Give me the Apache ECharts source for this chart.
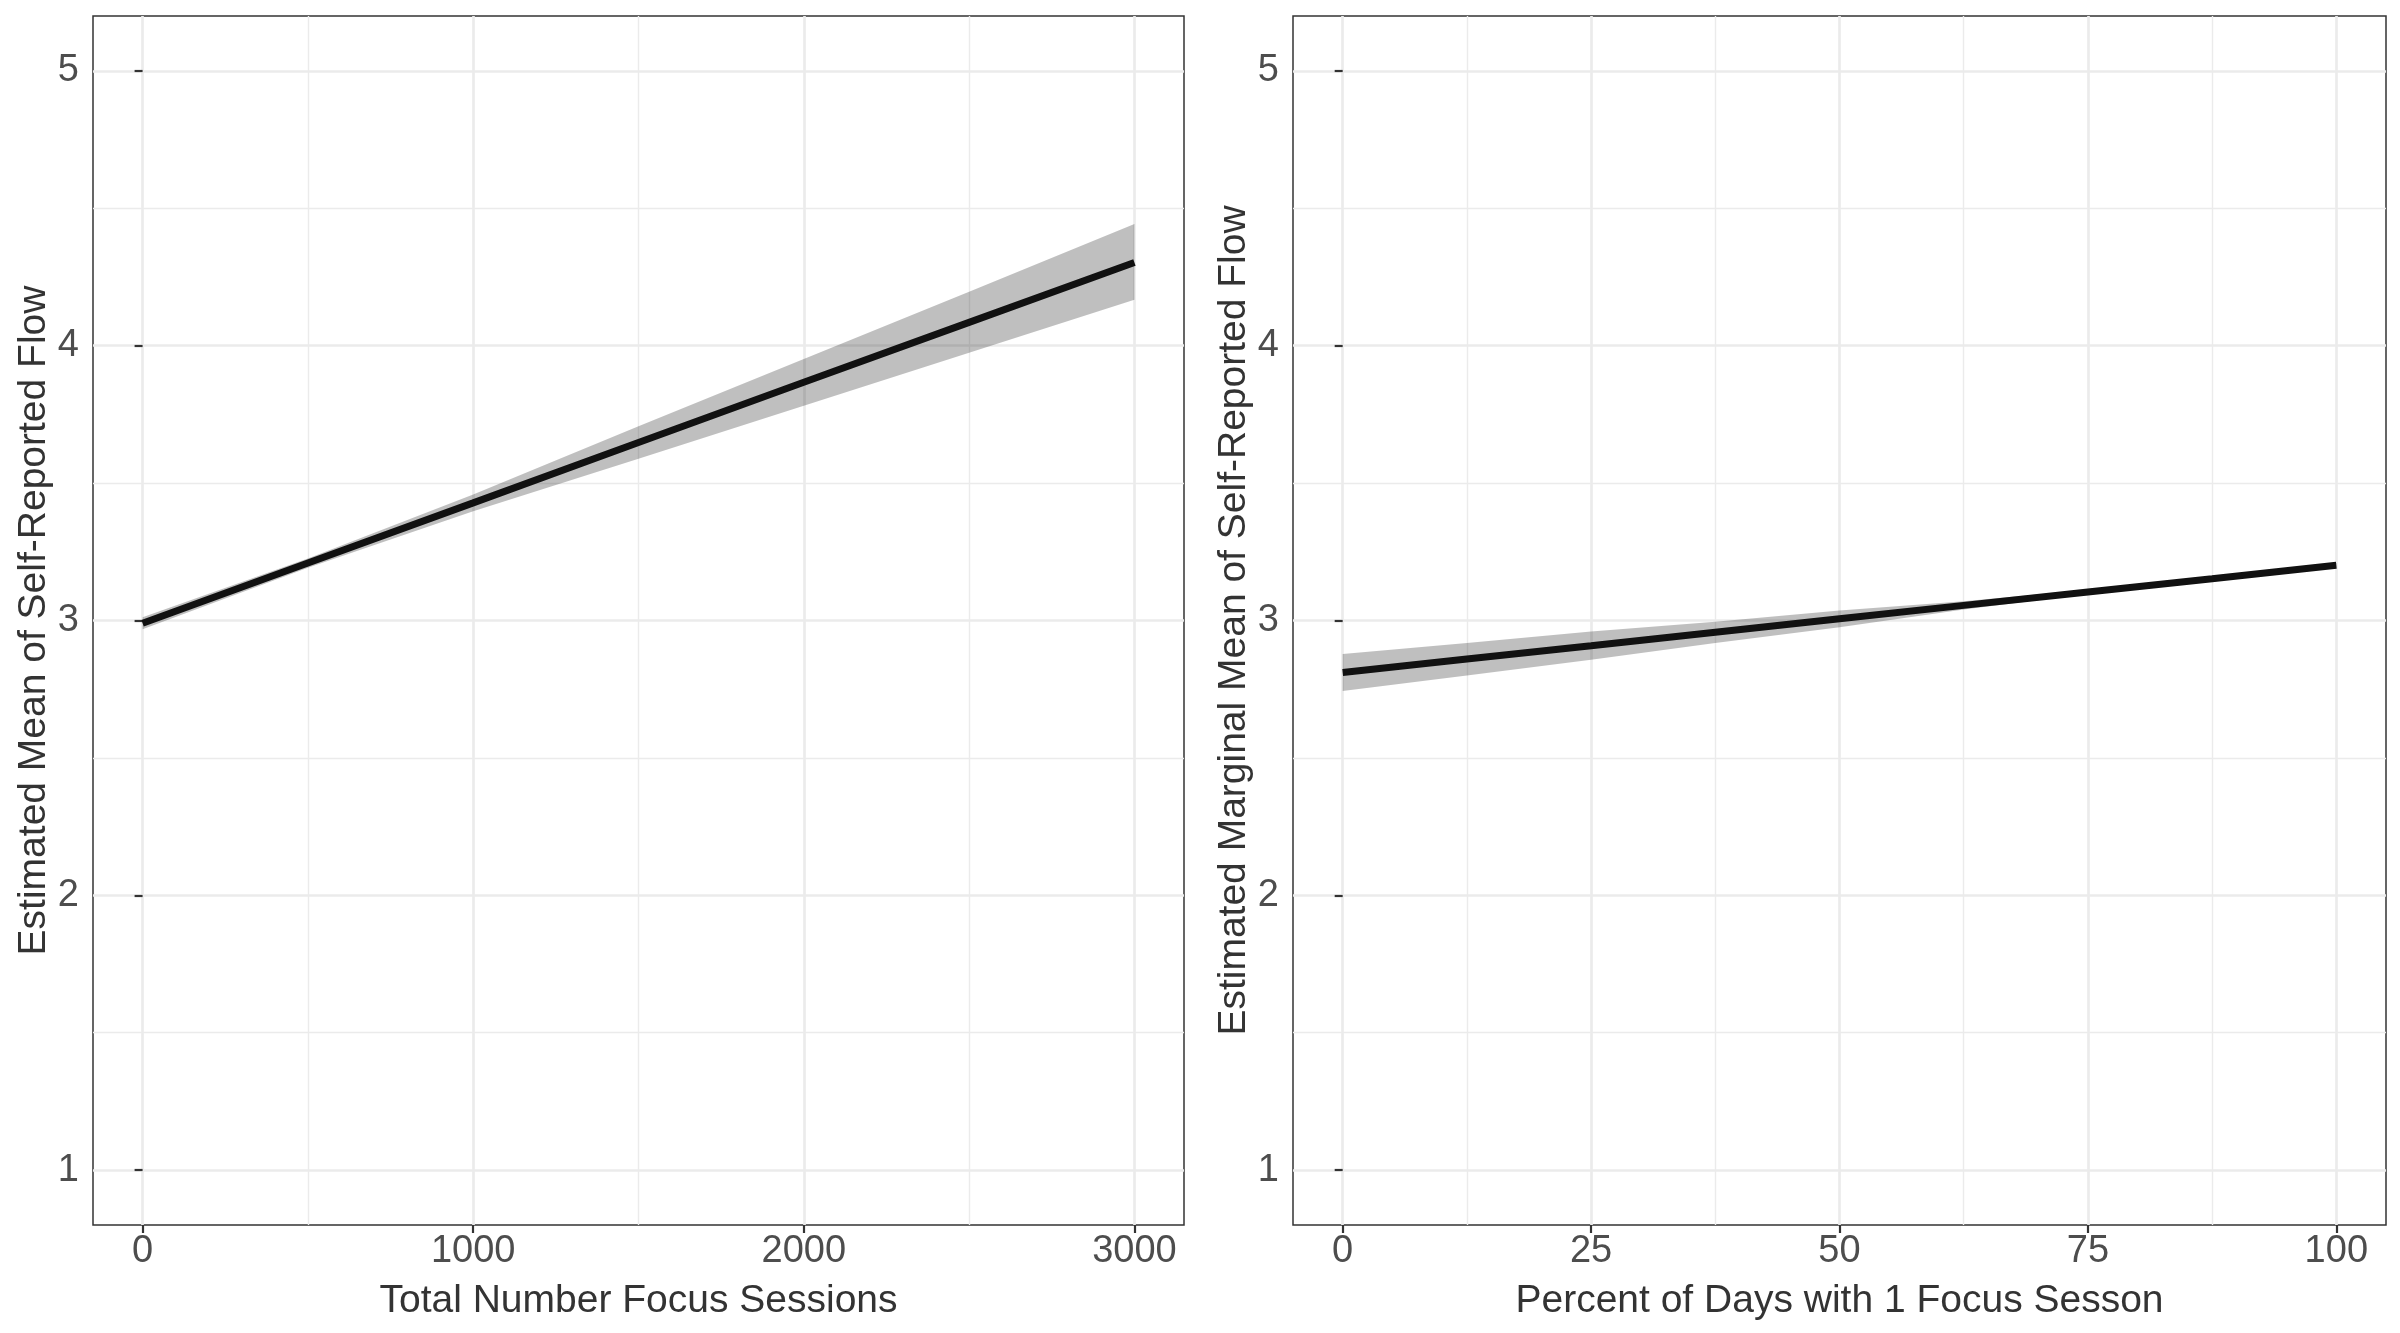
<!DOCTYPE html>
<html>
<head>
<meta charset="utf-8">
<title>Estimated flow by focus sessions</title>
<script src="https://cdn.jsdelivr.net/npm/echarts@6/dist/echarts.min.js"></script>
<style>
    html, body { margin: 0; padding: 0; background: #fff; }
    #chart { width: 2400px; height: 1333px; }
</style>
</head>
<body>
<div id="chart"></div>
<script>
// left panel: total number of focus sessions
var sessionsX = [0, 500, 1000, 1500, 2000, 2500, 3000];
var sessionsFit = [2.990, 3.209, 3.428, 3.648, 3.867, 4.085, 4.303];
var sessionsLower = [2.968, 3.192, 3.398, 3.589, 3.782, 3.974, 4.167];
var sessionsUpper = [3.012, 3.226, 3.459, 3.707, 3.952, 4.196, 4.443];

// right panel: percent of days with 1 focus session
var percentX = [0, 12.5, 25, 37.5, 50, 62.5, 75, 87.5, 100];
var percentFit = [2.811, 2.860, 2.908, 2.957, 3.006, 3.055, 3.104, 3.152, 3.201];
var percentLower = [2.743, 2.800, 2.857, 2.918, 2.975, 3.040, 3.096, 3.146, 3.193];
var percentUpper = [2.878, 2.918, 2.960, 2.995, 3.036, 3.070, 3.112, 3.158, 3.209];

// tick labels
var sessionsTicks = [0, 1000, 2000, 3000];
var sessionsMinor = [500, 1500, 2500];
var percentTicks = [0, 25, 50, 75, 100];
var percentMinor = [12.5, 37.5, 62.5, 87.5];
var flowTicks = [1, 2, 3, 4, 5];
var flowMinor = [1.5, 2.5, 3.5, 4.5];

var FONT = 'Liberation Sans';
var GRID_COLOR = '#ebebeb';

function pairs(xs, ys) {
    return xs.map(function(x, i) { return [x, ys[i]]; });
}

function majorAxis(gridIndex, min, max, ticks, name, isY) {
    return {
        type: 'value',
        gridIndex: gridIndex,
        min: min,
        max: max,
        name: name,
        nameLocation: 'middle',
        nameGap: isY ? 39 : 57,
        nameTextStyle: { fontFamily: FONT, fontSize: 39, color: '#333' },
        axisLine: { show: false },
        axisTick: {
            show: true,
            length: 8,
            customValues: ticks,
            lineStyle: { color: '#333', width: 2.2 }
        },
        axisLabel: {
            customValues: ticks,
            margin: isY ? 14 : 8,
            fontFamily: FONT,
            fontSize: 38,
            color: '#4d4d4d',
            formatter: function(v) { return String(v); }
        },
        splitLine: { show: true, lineStyle: { color: GRID_COLOR, width: 2.7 } }
    };
}

function minorAxis(gridIndex, min, max, ticks, isY) {
    return {
        type: 'value',
        gridIndex: gridIndex,
        position: isY ? 'left' : 'bottom',
        min: min,
        max: max,
        axisLine: { show: false },
        axisTick: { show: false, customValues: ticks },
        axisLabel: { show: false },
        splitLine: { show: true, lineStyle: { color: GRID_COLOR, width: 1.4 } }
    };
}

function bandSeries(xi, yi, xs, lower, upper, fit) {
    return [{
        // ribbon drawn as one polygon through the axis scales
        type: 'custom',
        xAxisIndex: xi,
        yAxisIndex: yi,
        data: xs.map(function(x, i) { return [x, lower[i], upper[i]]; }),
        encode: { x: 0, y: [1, 2] },
        silent: true,
        z: 2,
        renderItem: function(params, api) {
            if (params.dataIndex !== 0) return;
            var pts = [];
            xs.forEach(function(x, i) { pts.push(api.coord([x, upper[i]])); });
            for (var i = xs.length - 1; i >= 0; i--) pts.push(api.coord([xs[i], lower[i]]));
            return {
                type: 'polygon',
                shape: { points: pts },
                style: { fill: 'rgba(0,0,0,0.25)', stroke: 'none' }
            };
        }
    }, {
        type: 'line',
        xAxisIndex: xi,
        yAxisIndex: yi,
        data: pairs(xs, fit),
        symbol: 'none',
        lineStyle: { color: '#111', width: 7 },
        z: 5
    }];
}

var option = {
    animation: false,
    backgroundColor: '#fff',
    grid: [{
        left: 93, top: 16, width: 1091, height: 1209,
        show: true, borderColor: '#333', borderWidth: 1.5, backgroundColor: 'transparent'
    }, {
        left: 1293, top: 16, width: 1093, height: 1209,
        show: true, borderColor: '#333', borderWidth: 1.5, backgroundColor: 'transparent'
    }],
    xAxis: [
        majorAxis(0, -150, 3150, sessionsTicks, 'Total Number Focus Sessions', false),
        minorAxis(0, -150, 3150, sessionsMinor, false),
        majorAxis(1, -5, 105, percentTicks, 'Percent of Days with 1 Focus Sesson', false),
        minorAxis(1, -5, 105, percentMinor, false)
    ],
    yAxis: [
        majorAxis(0, 0.8, 5.2, flowTicks, 'Estimated Mean of Self-Reported Flow', true),
        minorAxis(0, 0.8, 5.2, flowMinor, true),
        majorAxis(1, 0.8, 5.2, flowTicks, 'Estimated Marginal Mean of Self-Reported Flow', true),
        minorAxis(1, 0.8, 5.2, flowMinor, true)
    ],
    series: []
        .concat(bandSeries(0, 0, sessionsX, sessionsLower, sessionsUpper, sessionsFit))
        .concat(bandSeries(2, 2, percentX, percentLower, percentUpper, percentFit))
};

echarts.init(document.getElementById('chart')).setOption(option);
</script>
</body>
</html>
